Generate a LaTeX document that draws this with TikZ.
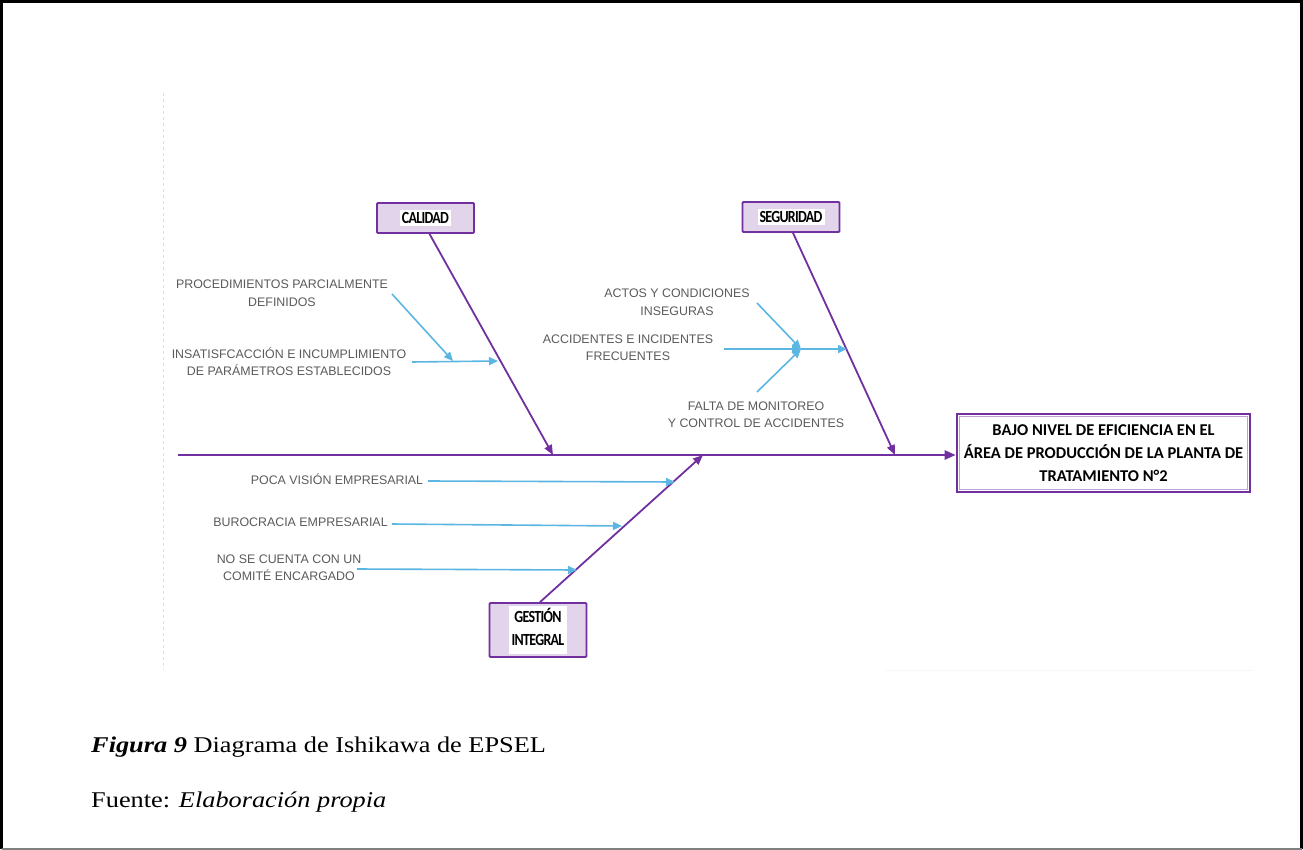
\documentclass[tikz,border=0pt]{standalone}
\usepackage{fontspec}
\usetikzlibrary{arrows.meta}
\newfontfamily\capfont{Liberation Serif}[FakeStretch=1.17]
\newfontfamily\causefont{Liberation Sans}
\newfontfamily\headfont{Carlito}
\newfontfamily\catfont{Carlito}[FakeStretch=0.82, LetterSpace=-4]
\definecolor{bone}{HTML}{7030A0}
\definecolor{catfill}{HTML}{E2D5EB}
\definecolor{causeline}{HTML}{5BB6E2}
\definecolor{causetext}{HTML}{5A5A5A}
\tikzset{
  spine/.style={draw=bone, line width=2.4pt, -{Triangle[length=11pt,width=9pt]}},
  bonearrow/.style={draw=bone, line width=1.8pt, -{Triangle[length=10pt,width=8pt]}},
  causearrow/.style={draw=causeline, line width=1.6pt, -{Triangle[length=9pt,width=8pt]}},
  causelabel/.style={font=\causefont\fontsize{12.4}{17.5}\selectfont, text=causetext, align=center, inner sep=0pt},
  catbox/.style={draw=bone, line width=1.8pt, fill=catfill, minimum width=97pt, minimum height=30pt, inner sep=0pt, rounded corners=1pt,
    font=\catfont\bfseries\fontsize{17}{19}\selectfont},
  effectbox/.style={draw=bone, line width=2.6pt, fill=white, minimum width=293pt, minimum height=78pt, inner sep=0pt, align=center,
    font=\headfont\bfseries\fontsize{16.5}{23}\selectfont},
  caption/.style={font=\capfont\fontsize{22.5}{27}\selectfont, anchor=base west, inner sep=0pt}
}
\begin{document}
\begin{tikzpicture}[x=1pt,y=-1pt]
\useasboundingbox (0,0) rectangle (1303,850);
% page frame
\draw[line width=2.5pt, black] (1.5,849) -- (1.5,1.5) -- (1301.5,1.5) -- (1301.5,849);
\draw[line width=1.5pt, gray] (1.5,849) -- (1301.5,849);
% faint frame of the pasted drawing
\draw[gray!25, dashed, line width=0.6pt] (163,93) -- (163,670);
\draw[gray!6, line width=0.8pt] (885,670) -- (1253,670);

% effect
\node[effectbox] (effect) at (1103.5,453) {BAJO NIVEL DE EFICIENCIA EN EL\\ÁREA DE PRODUCCIÓN DE LA PLANTA DE\\TRATAMIENTO N°2};
\draw[bone!45, line width=0.8pt] ([shift={(3.5,3.5)}]effect.north west) rectangle ([shift={(-3.5,-3.5)}]effect.south east);

% spine
\coordinate (tail) at (178,455);
\draw[spine] (tail) -- (effect.west |- tail);

% categories
\node[catbox] (cal) at (425.5,218) {\setlength{\fboxsep}{2pt}\colorbox{white}{CALIDAD}};
\node[catbox] (seg) at (791,217) {\setlength{\fboxsep}{2pt}\colorbox{white}{SEGURIDAD}};
\node[catbox, minimum height=54pt] (ges) at (538,630) {\setlength{\fboxsep}{3pt}\colorbox{white}{\begin{tabular}{@{}c@{}}GESTIÓN\\[4pt]INTEGRAL\end{tabular}}};

\coordinate (calend) at (553,455);
\coordinate (segend) at (895,455);
\coordinate (gesend) at (703,455);
\draw[bonearrow] ([xshift=4pt]cal.south) -- (calend);
\draw[bonearrow] ([xshift=2pt]seg.south) -- (segend);
\draw[bonearrow] ([xshift=2pt]ges.north) -- (gesend);

% causes: calidad
\node[causelabel] (proc) at (282,293) {PROCEDIMIENTOS PARCIALMENTE\\DEFINIDOS};
\node[causelabel] (insat) at (289,361.5) {INSATISFCACCIÓN E INCUMPLIMIENTO\\DE PARÁMETROS ESTABLECIDOS};
\coordinate (procs) at (392,294);
\coordinate (proce) at (453,361);
\coordinate (insats) at (412,362);
\coordinate (insate) at (498,361);
\draw[causearrow] (procs) -- (proce);
\draw[causearrow] (insats) -- (insate);

% causes: seguridad
\node[causelabel] (actos) at (677,302) {ACTOS Y CONDICIONES\\INSEGURAS};
\node[causelabel] (accid) at (628,347.5) {ACCIDENTES E INCIDENTES\\FRECUENTES};
\node[causelabel] (falta) at (756,414.5) {FALTA DE MONITOREO\\Y CONTROL DE ACCIDENTES};
\coordinate (hub) at (801,349);
\coordinate (actoss) at (757,303);
\coordinate (accids) at (724,349);
\coordinate (faltas) at (757,392);
\coordinate (hube) at (847,349);
\draw[causearrow] (actoss) -- (hub);
\draw[causearrow] (accids) -- (hub);
\draw[causearrow] (faltas) -- (hub);
\draw[causearrow] (hub) -- (hube);

% causes: gestion integral
\node[causelabel] (poca) at (337,479) {POCA VISIÓN EMPRESARIAL};
\node[causelabel] (buro) at (300.5,522) {BUROCRACIA EMPRESARIAL};
\node[causelabel] (nose) at (289,567.5) {NO SE CUENTA CON UN\\COMITÉ ENCARGADO};
\coordinate (pocas) at (428,481);
\coordinate (pocae) at (675,482);
\coordinate (buros) at (392,524);
\coordinate (buroe) at (622,526);
\coordinate (noses) at (357,569);
\coordinate (nosee) at (577,570);
\draw[causearrow] (pocas) -- (pocae);
\draw[causearrow] (buros) -- (buroe);
\draw[causearrow] (noses) -- (nosee);

% caption
\node[caption] (fig) at (91,752) {\textbf{\textit{Figura 9}} Diagrama de Ishikawa de EPSEL};
\node[caption] (src) at (91,807) {Fuente: \textit{Elaboración propia}};
\end{tikzpicture}
\end{document}
